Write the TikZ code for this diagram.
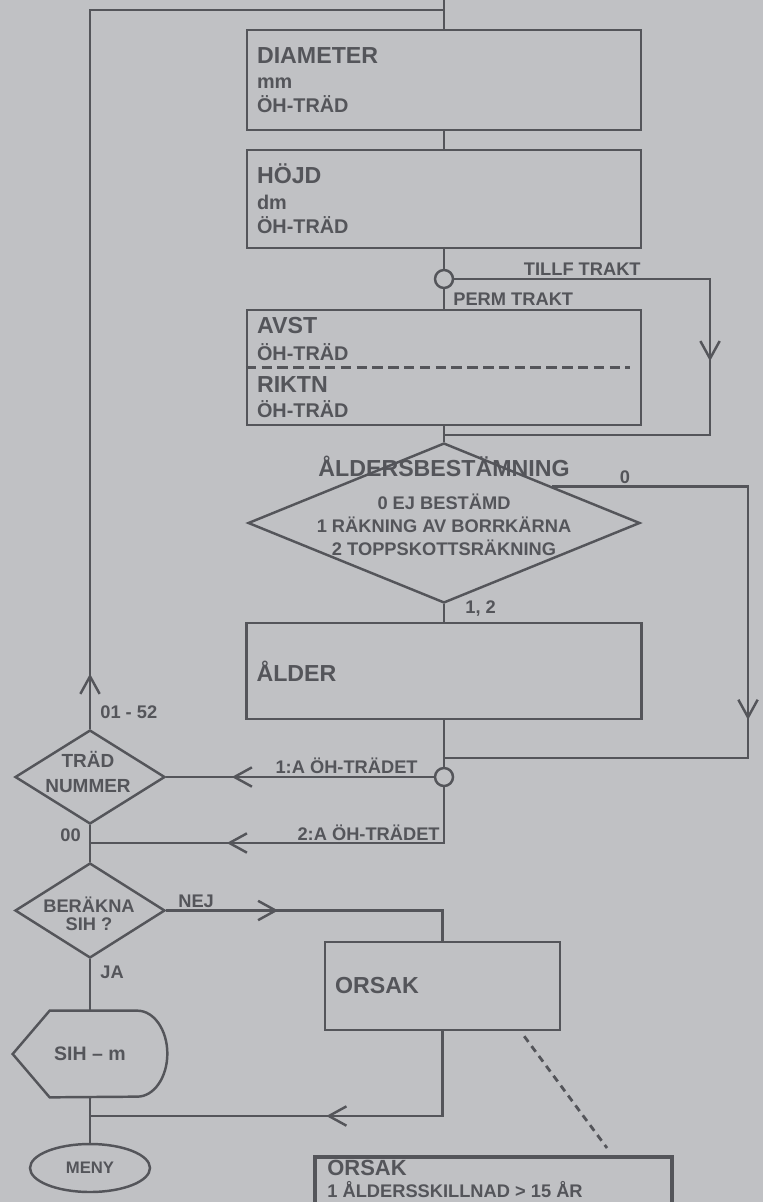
\documentclass[tikz,border=0pt]{standalone}
\usepackage{fontspec}
\setmainfont{Liberation Sans}
\usetikzlibrary{arrows.meta, positioning, calc, shapes.geometric, decorations.markings}

\definecolor{paper}{RGB}{192,193,196}
\definecolor{ink}{RGB}{84,85,90}

\newcommand{\bigtxt}{\fontsize{13.2}{15}\selectfont\bfseries}
\newcommand{\medtxt}{\fontsize{10.4}{13}\selectfont\bfseries}
\newcommand{\boxtxt}{\fontsize{11.3}{13.6}\selectfont\bfseries}

\begin{document}
\begin{tikzpicture}[x=0.02cm, y=0.02cm,
	every node/.style={text=ink},
	line/.style={draw=ink, line width=1.4pt},
	box/.style={rectangle, draw=ink, line width=1.4pt, align=left, inner xsep=0.2cm, font=\boxtxt},
	dec/.style={diamond, draw=ink, line width=1.4pt, inner sep=0pt},
	conn/.style={circle, draw=ink, fill=paper, line width=1.4pt, minimum size=0.36cm, inner sep=0pt},
	lbl/.style={font=\medtxt, inner sep=0pt},
	arrowat/.style={postaction={decorate}, decoration={markings, mark=at position #1 with {\arrow{Straight Barb[length=10pt, width=11pt]}}}}
	]
	% Background
	\fill[paper] (0,0) rectangle (763,-1202);
	\useasboundingbox (0,0) rectangle (763,-1202);
	
	% Main column
	\node[box, text width=7.48cm, minimum height=2cm] (diam) at (444,-80) {{\bigtxt DIAMETER}\\[1.1pt] mm\\ ÖH-TRÄD};
	\node[box, text width=7.48cm, minimum height=1.96cm] (hojd) at (444,-199) {{\bigtxt HÖJD}\\[1.1pt] dm\\ ÖH-TRÄD};
	\node[conn] (perm) at (444,-279) {};
	\node[box, text width=7.48cm, minimum height=2.3cm] (avst) at (444,-367.5) {{\bigtxt AVST}\\[1.7pt] ÖH-TRÄD\\[5.1pt] {\bigtxt RIKTN}\\[0.6pt] ÖH-TRÄD};
	\draw[line, line width=1.2pt, dash pattern=on 6pt off 3pt] (avst.west) -- ($(avst.east)+(-12,0)$);
	
	\node[dec, minimum width=7.84cm, minimum height=3.2cm] (age) at (444,-523) {};
	\node[font=\medtxt, align=center, inner sep=0pt] (agetxt) at (444,-506) {{\bigtxt ÅLDERSBESTÄMNING}\\[5.7pt] 0 EJ BESTÄMD\\ 1 RÄKNING AV BORRKÄRNA\\ 2 TOPPSKOTTSRÄKNING};
	\node[box, text width=7.5cm, minimum height=1.92cm, font=\bigtxt] (alder) at (444,-671) {ÅLDER};
	\node[conn] (skip) at (444,-777) {};
	
	% Left column
	\node[dec, minimum width=3cm, minimum height=1.88cm] (trad) at (90,-777) {};
	\node[font=\fontsize{10.8}{13}\selectfont\bfseries, align=center, inner sep=0pt] (tradtxt) at (88,-772) {TRÄD\\[1.7pt] NUMMER};
	\node[dec, minimum width=3cm, minimum height=1.9cm] (sihq) at (90,-910.5) {};
	\node[font=\medtxt, align=center, inner sep=0pt] (sihqtxt) at (89,-914) {BERÄKNA\\[-2.8pt] SIH ?};
	\node[minimum width=3.08cm, minimum height=1.72cm, inner sep=0pt, font=\fontsize{11.1}{13}\selectfont\bfseries] (sih) at (90,-1054) {SIH – m};
	\draw[line] (sih.west) -- ([xshift=0.74cm]sih.north west) -- ([xshift=-0.6cm]sih.north east)
		arc[start angle=90, end angle=-90, x radius=0.6cm, y radius=0.86cm] -- ([xshift=0.74cm]sih.south west) -- cycle;
	\node[ellipse, draw=ink, line width=1.4pt, minimum width=2.4cm, minimum height=0.96cm, inner sep=0pt, font=\fontsize{9.5}{11}\selectfont\bfseries] (meny) at (90,-1168) {MENY};
	
	% Cause boxes
	\node[box, text width=4.3cm, minimum height=1.76cm, font=\bigtxt] (orsak) at (442.5,-986) {ORSAK};
	\node[draw=ink, line width=2.5pt, anchor=north west, minimum width=7.14cm, minimum height=2cm] (why) at (313,-1155) {};
	\node[font=\medtxt, align=left, anchor=north west, inner sep=0pt] (whytxt) at (327,-1160) {{\fontsize{12.5}{14}\selectfont ORSAK}\\[-0.8pt] 1 ÅLDERSSKILLNAD > 15 ÅR};
	
	% Connectors
	\coordinate (entry) at (444,0);
	\coordinate (merge) at (444,-10);
	\coordinate (tillfc) at (710,-435);
	\coordinate (joinA) at (444,-435);
	\coordinate (zeroa) at ($(age.north)!0.55!(age.east)$);
	\coordinate (zerob) at (748,-758);
	\coordinate (joinB) at (444,-758);
	\coordinate (joinC) at (90,-843);
	\coordinate (joinD) at (90,-1116);
	
	\draw[line] (entry) -- (diam.north);
	\draw[line] (diam.south) -- (hojd.north);
	\draw[line] (hojd.south) -- (perm.north);
	\draw[line] (perm.south) -- (avst.north);
	\draw[line, arrowat=6.76cm] (perm.east) -| (tillfc) -- (joinA);
	\draw[line] (avst.south) -- (age.north);
	\draw[line, arrowat=8.58cm] (zeroa) -| (zerob) -- (joinB);
	\draw[line] (age.south) -- (alder.north);
	\draw[line] (alder.south) -- (skip.north);
	\draw[line, arrowat=4.04cm] (skip.west) -- (trad.east);
	\draw[line, arrowat=5.46cm] (skip.south) |- (joinC);
	\draw[line, arrowat=1.1cm] (trad.north) |- (merge);
	\draw[line] (trad.south) -- (sihq.north);
	\draw[line, arrowat=2.24cm] (sihq.east) -| (orsak.north);
	\draw[line] (sihq.south) -- (sih.north);
	\draw[line, arrowat=4.02cm] (orsak.south) |- (joinD);
	\draw[line] (sih.south) -- (meny.north);
	\draw[line, line width=1.6pt, dash pattern=on 4pt off 3pt] ($(orsak.south east)+(-37,-5)$) -- ($(why.north west)+(294,7)$);
	
	% Labels
	\node[lbl, anchor=base east] (tillflbl) at (641,-276) {TILLF TRAKT};
	\node[lbl, anchor=base west] (permlbl) at (453,-306) {PERM TRAKT};
	\node[lbl, anchor=base] (zerolbl) at (625,-483) {0};
	\node[lbl, anchor=base west] (onetwo) at (465,-613) {1, 2};
	\node[lbl, anchor=base west] (range) at (100,-718) {01 - 52};
	\node[lbl, anchor=base east] (firstlbl) at (418,-773) {1:A ÖH-TRÄDET};
	\node[lbl, anchor=base west] (zzlbl) at (60,-841) {00};
	\node[lbl, anchor=base east] (secondlbl) at (440,-840) {2:A ÖH-TRÄDET};
	\node[lbl, anchor=base west] (nejlbl) at (178,-907) {NEJ};
	\node[lbl, anchor=base west] (jalbl) at (100,-978) {JA};
\end{tikzpicture}
\end{document}
